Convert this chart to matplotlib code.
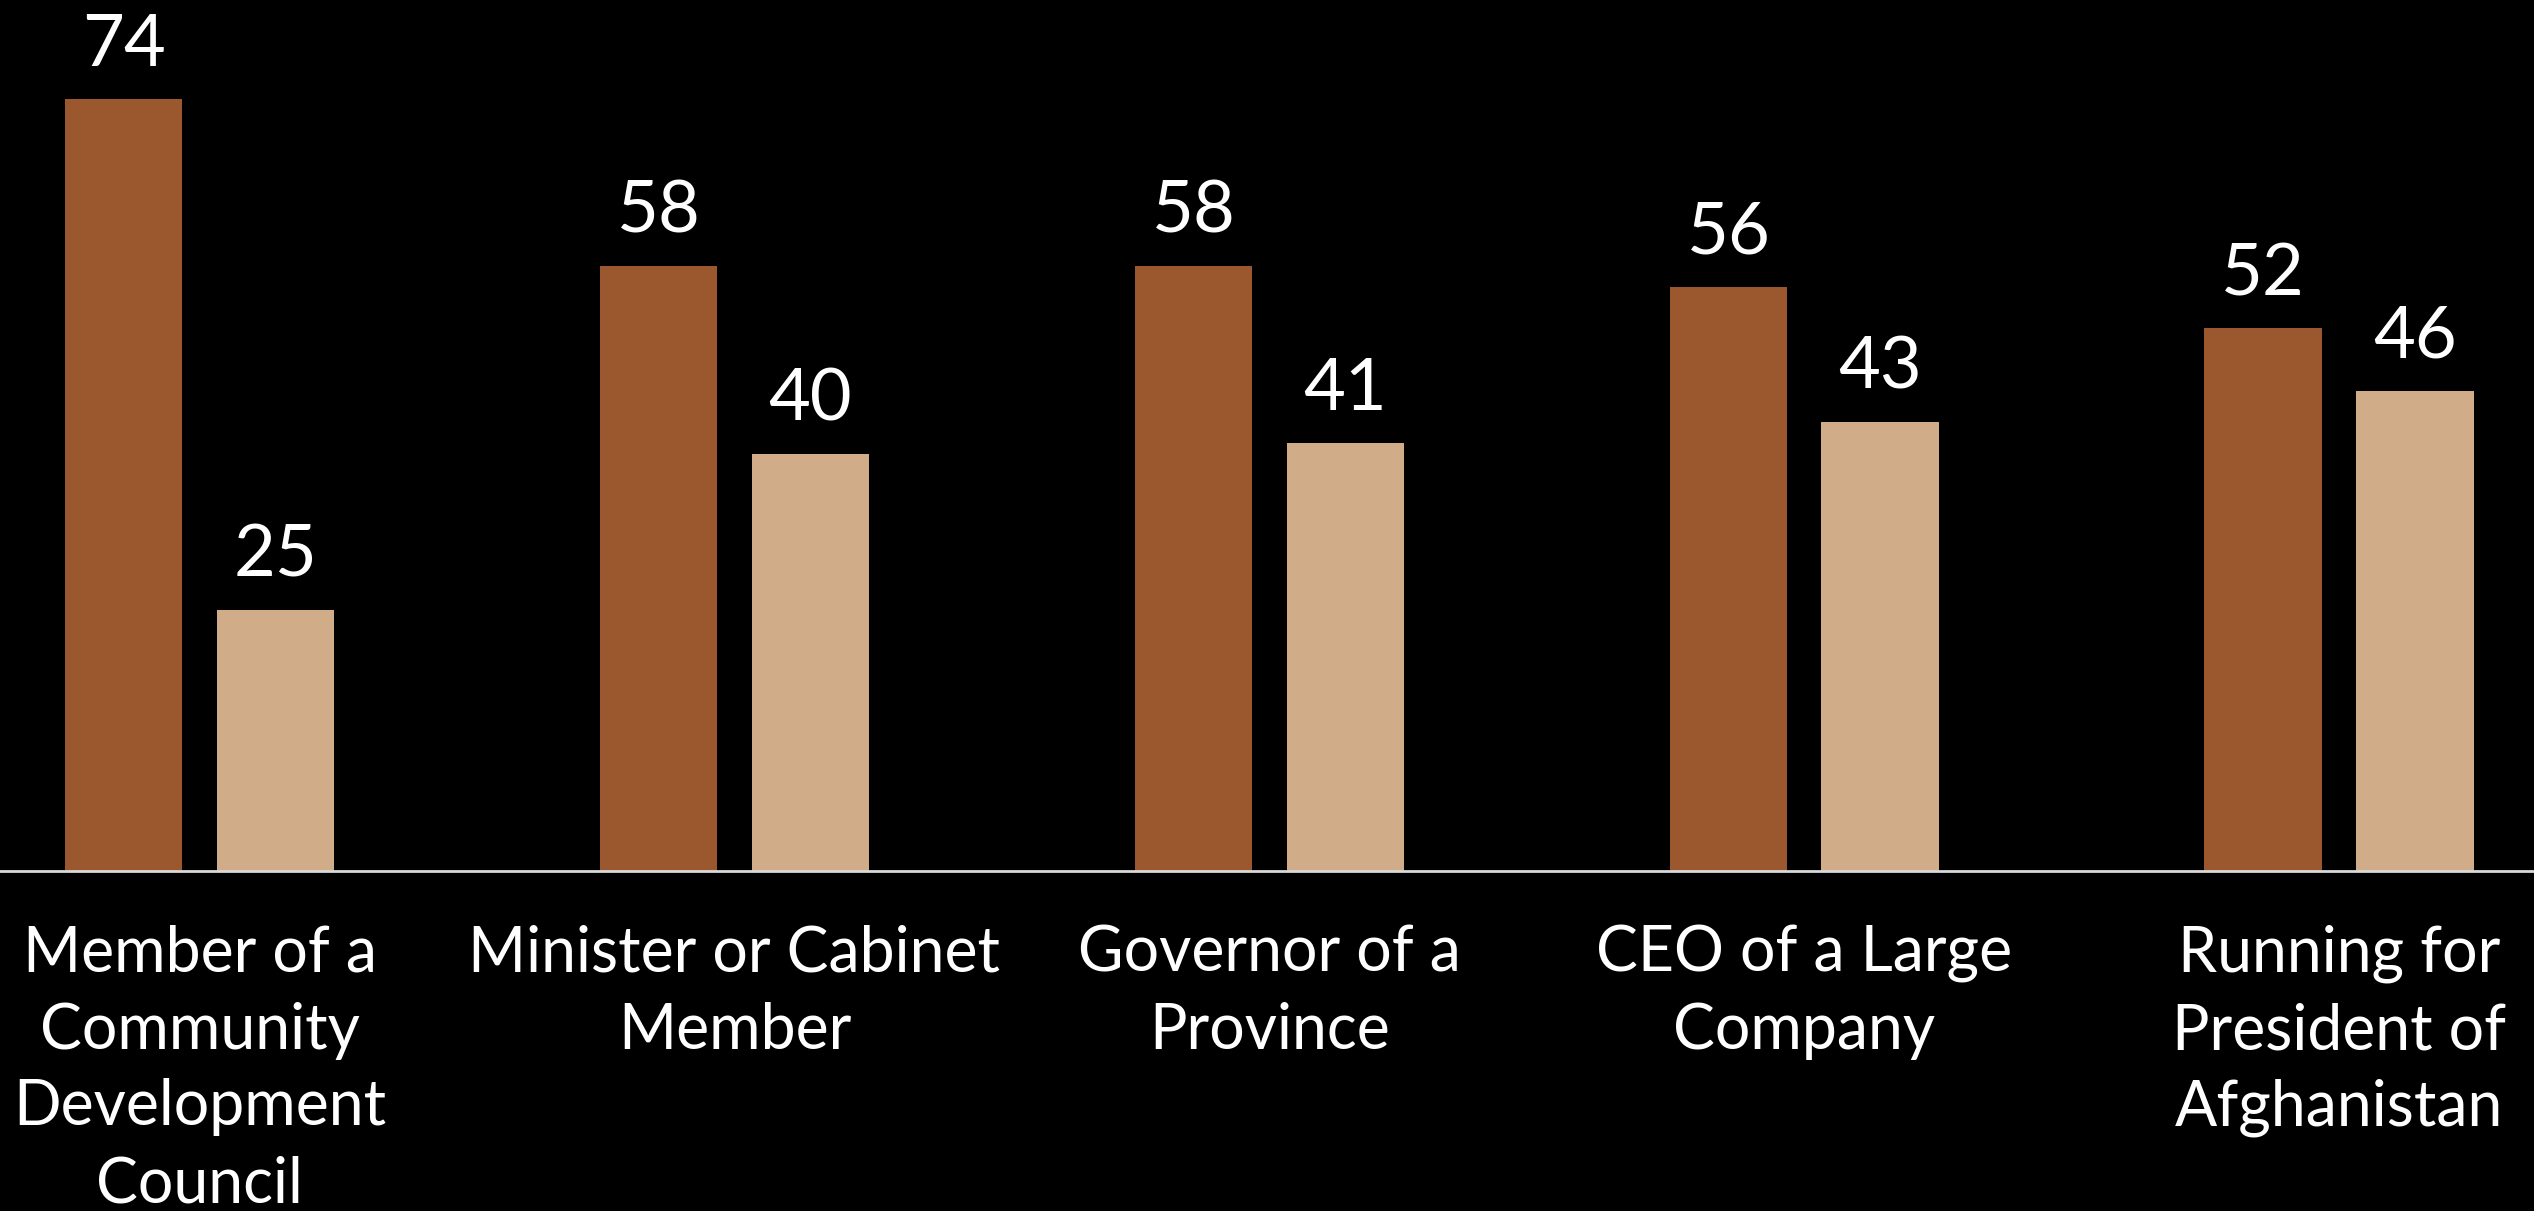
import matplotlib.pyplot as plt
import numpy as np

# Data
categories = [
    "Member of a\nCommunity\nDevelopment\nCouncil",
    "Minister or Cabinet\nMember",
    "Governor of a\nProvince",
    "CEO of a Large\nCompany",
    "Running for\nPresident of\nAfghanistan",
]
series_a = [74, 58, 58, 56, 52]
series_b = [25, 40, 41, 43, 46]

brown = '#9B572E'
tan = '#D1AC88'


def main():
    plt.rcParams['font.family'] = ['Lato', 'DejaVu Sans']

    fig = plt.figure(figsize=(25.34, 12.11), dpi=100, facecolor='black')
    ax = fig.add_axes([0, 0.281, 1, 0.719], facecolor='black')

    x = np.arange(len(categories))
    width = 0.22
    offset = 0.142

    bars_a = ax.bar(x - offset, series_a, width, color=brown)
    bars_b = ax.bar(x + offset, series_b, width, color=tan)

    # value labels above each bar
    for bars in (bars_a, bars_b):
        for b in bars:
            ax.annotate(f'{int(b.get_height())}',
                        (b.get_x() + b.get_width() / 2, b.get_height()),
                        xytext=(0, 24), textcoords='offset points',
                        ha='center', va='baseline', color='white', fontsize=52)

    ax.set_xlim(-0.373, 4.364)
    ax.set_ylim(0, 83.5)

    # axis styling: only a thin light baseline
    for side in ('top', 'right', 'left'):
        ax.spines[side].set_visible(False)
    ax.spines['bottom'].set_color('#D9D9D9')
    ax.spines['bottom'].set_linewidth(2)
    ax.set_yticks([])
    ax.set_xticks(x)
    ax.set_xticklabels(categories, color='white', fontsize=45, linespacing=1.4)
    ax.tick_params(axis='x', length=0, pad=39)

    fig.savefig('out.png', dpi=100, facecolor='black')


if __name__ == "__main__":
    main()
